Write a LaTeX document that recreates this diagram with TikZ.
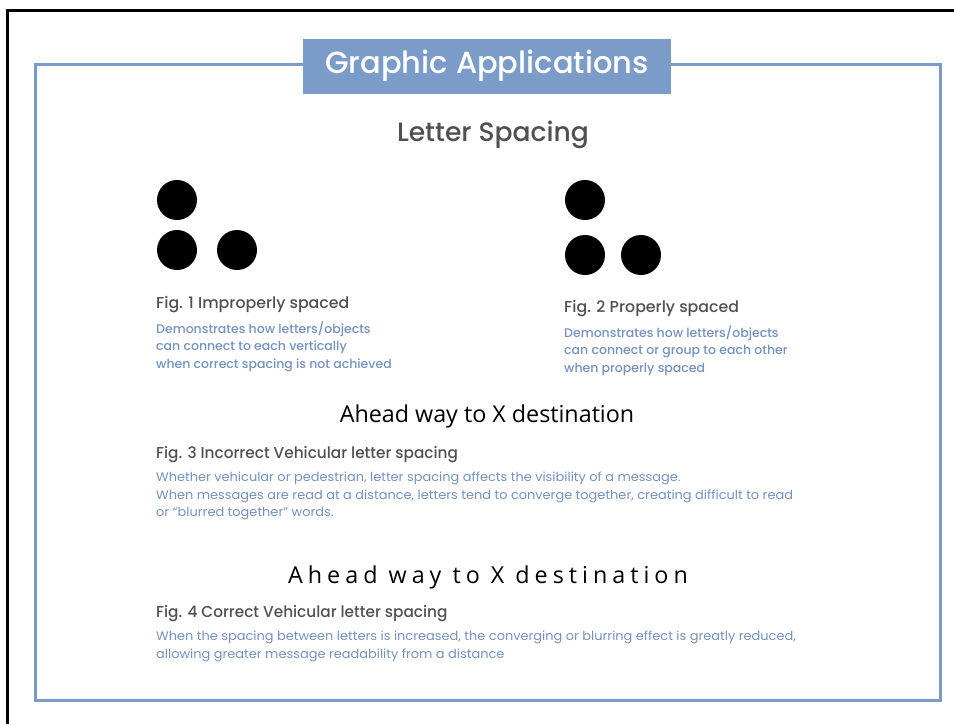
\documentclass[tikz,border=0pt]{standalone}
\usepackage{fontspec}
\setmainfont{Poppins}[BoldFont={Poppins Medium}]
\newfontfamily\narrowfont{Poppins Medium}[FakeStretch=0.97]
\newfontfamily\widefont{Poppins}[FakeStretch=1.035]
\newfontfamily\signfont{Open Sans}
\newfontfamily\signwidefont{Open Sans}[LetterSpace=21.5]

\definecolor{appblue}{RGB}{123,155,200}
\definecolor{textblue}{RGB}{115,145,193}
\definecolor{textgray}{RGB}{80,80,80}

\tikzset{
  figtitle/.style={anchor=west, inner sep=0pt, text=textgray,
    font=\fontsize{15.8}{18}\selectfont\bfseries},
  figtext/.style={anchor=north west, inner sep=0pt, align=left, text=textblue,
    font=\fontsize{12.5}{17.5}\selectfont\bfseries},
  blackdot/.style={fill=black},
}

\begin{document}
\begin{tikzpicture}[x=1pt, y=-1pt]
  \useasboundingbox (0,0) rectangle (954,724);

  % Frames
  \draw[line width=3pt] (7,724) -- (7,10) -- (954,10);
  \draw[appblue, line width=3pt] (35,64) rectangle (940,700);

  % Headers
  \node[fill=appblue, minimum width=368pt, minimum height=55pt, text=white,
    font=\fontsize{30.5}{34}\selectfont\bfseries] (apps) at (487,66) {Graphic Applications};
  \node[text=textgray, font=\fontsize{26.6}{30}\selectfont\bfseries] (spacing) at (493,135) {Letter Spacing};

  % Dots
  \fill[blackdot] (177,200) circle (20);
  \fill[blackdot] (177,250) circle (20);
  \fill[blackdot] (237,250) circle (20);
  \fill[blackdot] (585,200) circle (20);
  \fill[blackdot] (585,255) circle (20);
  \fill[blackdot] (641,255) circle (20);

  % Figures 1 and 2
  \node[figtitle] (fig1) at (156,305) {Fig. 1 Improperly spaced};
  \node[figtext] (fig1text) at (156,321) {Demonstrates how letters/objects\\
    can connect to each vertically\\ when correct spacing is not achieved};
  \node[figtitle] (fig2) at (564,309) {Fig. 2 Properly spaced};
  \node[figtext] (fig2text) at (564,325) {Demonstrates how letters/objects\\
    can connect or group to each other\\ when properly spaced};

  % Figure 3
  \node[font=\signfont\fontsize{23.3}{28}\selectfont] (sign1) at (487,416) {Ahead way to X destination};
  \node[figtitle, font=\narrowfont\fontsize{15.8}{18}\selectfont] (fig3) at (156,455)
    {Fig. 3 Incorrect Vehicular letter spacing};
  \node[figtext, font=\widefont\fontsize{12.5}{17.5}\selectfont] (fig3text) at (156,472)
    {Whether vehicular or pedestrian, letter spacing affects the visibility of a message.\\
    When messages are read at a distance, letters tend to converge together, creating difficult to read\\
    or “blurred together” words.};

  % Figure 4
  \node[font=\signwidefont\fontsize{23.3}{28}\selectfont] (sign2) at (488,577) {Ahead way to X destination};
  \node[figtitle, font=\narrowfont\fontsize{15.8}{18}\selectfont] (fig4) at (156,614)
    {Fig. 4 Correct Vehicular letter spacing};
  \node[figtext, font=\widefont\fontsize{12.5}{17.5}\selectfont] (fig4text) at (156,631)
    {When the spacing between letters is increased, the converging or blurring effect is greatly reduced,\\
    allowing greater message readability from a distance};
\end{tikzpicture}
\end{document}
